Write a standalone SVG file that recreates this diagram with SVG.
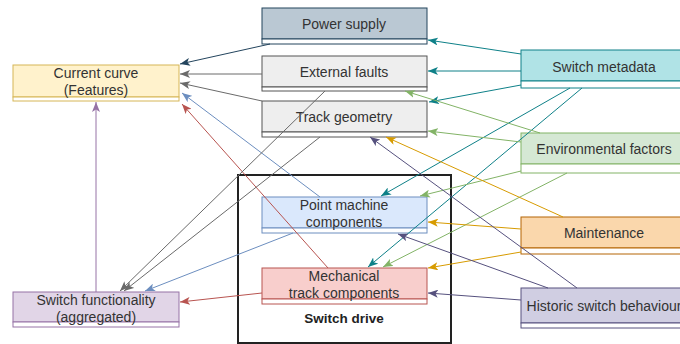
<svg xmlns="http://www.w3.org/2000/svg" width="680" height="344" viewBox="0 0 680 344">
<style>
text{font-family:"Liberation Sans",Arial,sans-serif;font-size:14px;fill:#333;text-anchor:middle}
.b{font-weight:bold;fill:#222;font-size:13.5px}
.e{fill:none;stroke-width:1}
.strip{fill:#fff}
</style>
<defs>
<marker id="m-db" viewBox="0 0 10 8" markerWidth="10" markerHeight="8" refX="10" refY="4" orient="auto" markerUnits="userSpaceOnUse"><path d="M0,0L10,4L0,8L2.5,4Z" fill="#23445d"/></marker>
<marker id="m-gy" viewBox="0 0 10 8" markerWidth="10" markerHeight="8" refX="10" refY="4" orient="auto" markerUnits="userSpaceOnUse"><path d="M0,0L10,4L0,8L2.5,4Z" fill="#6a6a6a"/></marker>
<marker id="m-bl" viewBox="0 0 10 8" markerWidth="10" markerHeight="8" refX="10" refY="4" orient="auto" markerUnits="userSpaceOnUse"><path d="M0,0L10,4L0,8L2.5,4Z" fill="#6c8ebf"/></marker>
<marker id="m-rd" viewBox="0 0 10 8" markerWidth="10" markerHeight="8" refX="10" refY="4" orient="auto" markerUnits="userSpaceOnUse"><path d="M0,0L10,4L0,8L2.5,4Z" fill="#b85450"/></marker>
<marker id="m-pu" viewBox="0 0 10 8" markerWidth="10" markerHeight="8" refX="10" refY="4" orient="auto" markerUnits="userSpaceOnUse"><path d="M0,0L10,4L0,8L2.5,4Z" fill="#9673a6"/></marker>
<marker id="m-tl" viewBox="0 0 10 8" markerWidth="10" markerHeight="8" refX="10" refY="4" orient="auto" markerUnits="userSpaceOnUse"><path d="M0,0L10,4L0,8L2.5,4Z" fill="#0e8088"/></marker>
<marker id="m-gr" viewBox="0 0 10 8" markerWidth="10" markerHeight="8" refX="10" refY="4" orient="auto" markerUnits="userSpaceOnUse"><path d="M0,0L10,4L0,8L2.5,4Z" fill="#82b366"/></marker>
<marker id="m-or" viewBox="0 0 10 8" markerWidth="10" markerHeight="8" refX="10" refY="4" orient="auto" markerUnits="userSpaceOnUse"><path d="M0,0L10,4L0,8L2.5,4Z" fill="#d79b00"/></marker>
<marker id="m-hi" viewBox="0 0 10 8" markerWidth="10" markerHeight="8" refX="10" refY="4" orient="auto" markerUnits="userSpaceOnUse"><path d="M0,0L10,4L0,8L2.5,4Z" fill="#56517e"/></marker>
</defs>
<rect width="680" height="344" fill="#fff"/>

<g id="switch-drive">
<rect x="238" y="175" width="213" height="168" fill="none" stroke="#222" stroke-width="2"/>
<text class="b" x="344" y="323">Switch drive</text>
</g>

<g id="current-curve">
<rect x="13" y="65" width="166" height="32" fill="#fff2cc" stroke="#d6b656"/>
<rect class="strip" x="13" y="97" width="166" height="4" stroke="#d6b656"/>
<text x="96" y="78">Current curve</text>
<text x="96" y="95">(Features)</text>
</g>

<g id="power-supply">
<rect x="262" y="8" width="165" height="31" fill="#bac8d3" stroke="#23445d"/>
<rect class="strip" x="262" y="39" width="165" height="5" stroke="#23445d"/>
<text x="344" y="29">Power supply</text>
</g>

<g id="external-faults">
<rect x="262" y="56" width="165" height="31" fill="#eeeeee" stroke="#555"/>
<rect class="strip" x="262" y="87" width="165" height="4" stroke="#555"/>
<text x="344" y="77">External faults</text>
</g>

<g id="track-geometry">
<rect x="262" y="101" width="165" height="31" fill="#eeeeee" stroke="#555"/>
<rect class="strip" x="262" y="132" width="165" height="5" stroke="#555"/>
<text x="344" y="122">Track geometry</text>
</g>

<g id="point-machine">
<rect x="262" y="197" width="165" height="31" fill="#dae8fc" stroke="#6c8ebf"/>
<rect class="strip" x="262" y="228" width="165" height="5" stroke="#6c8ebf"/>
<text x="344" y="210">Point machine</text>
<text x="344" y="227">components</text>
</g>

<g id="mechanical-track">
<rect x="262" y="268" width="165" height="31" fill="#f8cecc" stroke="#b85450"/>
<rect class="strip" x="262" y="299" width="165" height="5" stroke="#b85450"/>
<text x="344" y="281">Mechanical</text>
<text x="344" y="298">track components</text>
</g>

<g id="switch-functionality">
<rect x="13" y="292" width="166" height="30" fill="#e1d5e7" stroke="#9673a6"/>
<rect class="strip" x="13" y="322" width="166" height="5" stroke="#9673a6"/>
<text x="96" y="305">Switch functionality</text>
<text x="96" y="322">(aggregated)</text>
</g>

<g id="switch-metadata">
<rect x="521" y="50" width="166" height="31" fill="#b0e3e6" stroke="#0e8088"/>
<rect class="strip" x="521" y="81" width="166" height="7" stroke="#0e8088"/>
<text x="604" y="72">Switch metadata</text>
</g>

<g id="environmental-factors">
<rect x="521" y="133" width="166" height="31" fill="#d5e8d4" stroke="#82b366"/>
<rect class="strip" x="521" y="164" width="166" height="9" stroke="#82b366"/>
<text x="604" y="154">Environmental factors</text>
</g>

<g id="maintenance">
<rect x="521" y="217" width="166" height="31" fill="#fad7ac" stroke="#b46504"/>
<rect class="strip" x="521" y="248" width="166" height="6" stroke="#b46504"/>
<text x="604" y="238">Maintenance</text>
</g>

<g id="historic-switch-behaviour">
<rect x="521" y="288" width="166" height="35" fill="#d0cee2" stroke="#56517e"/>
<rect class="strip" x="521" y="323" width="166" height="5" stroke="#56517e"/>
<text x="604" y="311">Historic switch behaviour</text>
</g>

<g id="connectors" class="e">
<line x1="270" y1="44" x2="180" y2="64" stroke="#23445d" marker-end="url(#m-db)"/>
<line x1="262" y1="74" x2="180" y2="74" stroke="#6a6a6a" marker-end="url(#m-gy)"/>
<line x1="262" y1="101" x2="180" y2="83" stroke="#6a6a6a" marker-end="url(#m-gy)"/>
<line x1="320" y1="197" x2="182" y2="93" stroke="#6c8ebf" marker-end="url(#m-bl)"/>
<line x1="328" y1="268" x2="182" y2="104" stroke="#b85450" marker-end="url(#m-rd)"/>
<line x1="96" y1="292" x2="96" y2="102" stroke="#9673a6" marker-end="url(#m-pu)"/>
<line x1="325" y1="91" x2="120" y2="291" stroke="#6a6a6a" marker-end="url(#m-gy)"/>
<line x1="320" y1="137" x2="124" y2="291" stroke="#6a6a6a" marker-end="url(#m-gy)"/>
<line x1="293" y1="233" x2="145" y2="291" stroke="#6c8ebf" marker-end="url(#m-bl)"/>
<line x1="262" y1="293" x2="180" y2="302" stroke="#b85450" marker-end="url(#m-rd)"/>
<line x1="521" y1="54" x2="428" y2="40" stroke="#0e8088" marker-end="url(#m-tl)"/>
<line x1="521" y1="71" x2="428" y2="71" stroke="#0e8088" marker-end="url(#m-tl)"/>
<line x1="521" y1="85" x2="429" y2="102" stroke="#0e8088" marker-end="url(#m-tl)"/>
<line x1="570" y1="88" x2="381" y2="196" stroke="#0e8088" marker-end="url(#m-tl)"/>
<line x1="582" y1="88" x2="368" y2="267" stroke="#0e8088" marker-end="url(#m-tl)"/>
<line x1="540" y1="133" x2="405" y2="91" stroke="#82b366" marker-end="url(#m-gr)"/>
<line x1="521" y1="142" x2="428" y2="131" stroke="#82b366" marker-end="url(#m-gr)"/>
<line x1="521" y1="171" x2="420" y2="196" stroke="#82b366" marker-end="url(#m-gr)"/>
<line x1="567" y1="173" x2="383" y2="267" stroke="#82b366" marker-end="url(#m-gr)"/>
<line x1="563" y1="217" x2="386" y2="137" stroke="#d79b00" marker-end="url(#m-or)"/>
<line x1="521" y1="229" x2="428" y2="222" stroke="#d79b00" marker-end="url(#m-or)"/>
<line x1="521" y1="252" x2="428" y2="268" stroke="#d79b00" marker-end="url(#m-or)"/>
<line x1="577" y1="288" x2="370" y2="137" stroke="#56517e" marker-end="url(#m-hi)"/>
<line x1="548" y1="288" x2="398" y2="234" stroke="#56517e" marker-end="url(#m-hi)"/>
<line x1="521" y1="300" x2="428" y2="293" stroke="#56517e" marker-end="url(#m-hi)"/>
</g>
</svg>
